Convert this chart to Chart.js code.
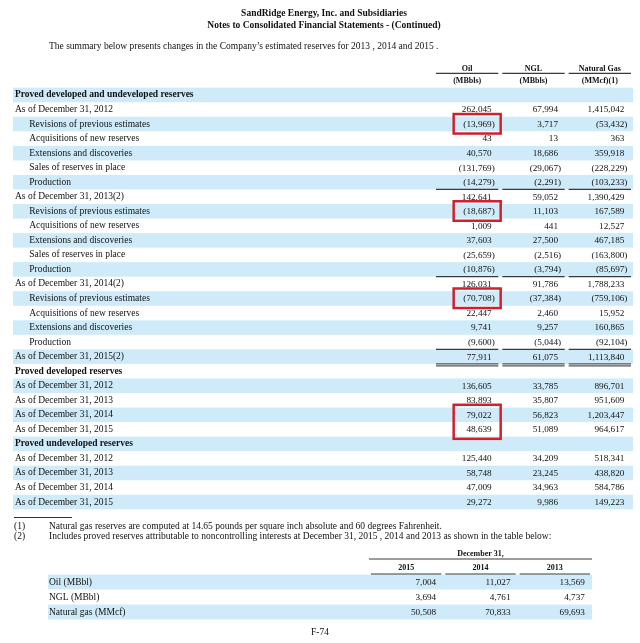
<!DOCTYPE html>
<html>
<head>
<meta charset="utf-8">
<script src="https://cdn.jsdelivr.net/npm/chart.js@4.4.0/dist/chart.umd.min.js"></script>
<style>
  html, body { margin: 0; padding: 0; background: #fff; }
  body { width: 640px; height: 643px; position: relative; overflow: hidden;
         font-family: 'Liberation Serif', 'Times New Roman', serif; color: #111; }
  .t { position: absolute; white-space: nowrap; font-size: 9.5px; line-height: 12px; }
  .b { font-weight: bold; }
  #main { position: absolute; left: 0; top: 0; }
  #nci { position: absolute; left: 0; top: 530px; }
</style>
</head>
<body>
<canvas id="main" width="640" height="515"></canvas>
<canvas id="nci" width="640" height="100"></canvas>

<div class="t b" style="left:0;width:648px;text-align:center;top:6.5px">SandRidge Energy, Inc. and Subsidiaries</div>
<div class="t b" style="left:0;width:648px;text-align:center;top:18.5px">Notes to Consolidated Financial Statements - (Continued)</div>
<div class="t" style="left:49px;top:40px">The summary below presents changes in the Company’s estimated reserves for 2013 , 2014 and 2015 .</div>

<div style="position:absolute;left:14px;top:517px;width:58px;border-top:1px solid #333"></div>
<div class="t" style="left:14px;top:519.5px">(1)</div>
<div class="t" style="left:49px;top:519.5px">Natural gas reserves are computed at 14.65 pounds per square inch absolute and 60 degrees Fahrenheit.</div>
<div class="t" style="left:14px;top:530px">(2)</div>
<div class="t" style="left:49px;top:530px">Includes proved reserves attributable to noncontrolling interests at December 31, 2015 , 2014 and 2013 as shown in the table below:</div>

<div class="t" style="left:0;width:640px;text-align:center;top:626px">F-74</div>

<script>
// Tabela principal: reservas estimadas
const colNames = ['Oil', 'NGL', 'Natural Gas'];
const colUnits = ['(MBbls)', '(MBbls)', '(MMcf)(1)'];

const rowLabels = [
    'Proved developed and undeveloped reserves',
    'As of December 31, 2012',
    'Revisions of previous estimates',
    'Acquisitions of new reserves',
    'Extensions and discoveries',
    'Sales of reserves in place',
    'Production',
    'As of December 31, 2013(2)',
    'Revisions of previous estimates',
    'Acquisitions of new reserves',
    'Extensions and discoveries',
    'Sales of reserves in place',
    'Production',
    'As of December 31, 2014(2)',
    'Revisions of previous estimates',
    'Acquisitions of new reserves',
    'Extensions and discoveries',
    'Production',
    'As of December 31, 2015(2)',
    'Proved developed reserves',
    'As of December 31, 2012',
    'As of December 31, 2013',
    'As of December 31, 2014',
    'As of December 31, 2015',
    'Proved undeveloped reserves',
    'As of December 31, 2012',
    'As of December 31, 2013',
    'As of December 31, 2014',
    'As of December 31, 2015'
];
// h = section header, a = balance, s = indented change
const rowKinds = ['h','a','s','s','s','s','s','a','s','s','s','s','s','a','s','s','s','s','a',
                  'h','a','a','a','a','h','a','a','a','a'];

const oil = [null, 262045, -13969, 43, 40570, -131769, -14279, 142641, -18687, 1009, 37603, -25659, -10876,
             126031, -70708, 22447, 9741, -9600, 77911, null, 136605, 83893, 79022, 48639,
             null, 125440, 58748, 47009, 29272];
const ngl = [null, 67994, 3717, 13, 18686, -29067, -2291, 59052, 11103, 441, 27500, -2516, -3794,
             91786, -37384, 2460, 9257, -5044, 61075, null, 33785, 35807, 56823, 51089,
             null, 34209, 23245, 34963, 9986];
const gas = [null, 1415042, -53432, 363, 359918, -228229, -103233, 1390429, 167589, 12527, 467185, -163800, -85697,
             1788233, -759106, 15952, 160865, -92104, 1113840, null, 896701, 951609, 1203447, 964617,
             null, 518341, 438820, 584786, 149223];

// linhas com traço abaixo (índices) e destaques em vermelho
const rulesAfter = [6, 12, 17];
const doubleRulesAfter = [18];
const highlights = [[2, 2], [8, 8], [14, 14], [22, 23]];

// Tabela de participações minoritárias
const nciYears = ['2015', '2014', '2013'];
const nciLabels = ['Oil (MBbl)', 'NGL (MBbl)', 'Natural gas (MMcf)'];
const nci2015 = [7004, 3694, 50508];
const nci2014 = [11027, 4761, 70833];
const nci2013 = [13569, 4737, 69693];

const FONT = "'Liberation Serif', 'Times New Roman', serif";
const INK = '#111';
const SHADE = '#cfebfa';

function formatar(v) {
    return Math.abs(v).toLocaleString('en-US');
}

const tablePlugin = {
    id: 'table',
    beforeDraw(chart, args, opts) {
        const { ctx, chartArea, scales: { y } } = chart;
        const n = y.getLabels().length;
        const h = chartArea.height / n;
        ctx.save();
        ctx.fillStyle = SHADE;
        for (let i = 0; i < n; i += 2) {
            const cy = y.getPixelForValue(i);
            ctx.fillRect(opts.shadeLeft, cy - h / 2, chartArea.right - opts.shadeLeft, h);
        }
        ctx.restore();
    },
    afterDatasetsDraw(chart, args, opts) {
        const ctx = chart.ctx;
        ctx.save();
        ctx.fillStyle = INK;
        ctx.font = `normal ${opts.valueSize}px ${FONT}`;
        ctx.textBaseline = 'middle';
        chart.data.datasets.forEach((ds, d) => {
            const meta = chart.getDatasetMeta(d);
            ds.values.forEach((v, j) => {
                if (v === null) return;
                const pt = meta.data[j];
                const ax = pt.x + opts.anchor;
                ctx.textAlign = 'right';
                ctx.fillText((v < 0 ? '(' : '') + formatar(v), ax, pt.y + 0.5);
                if (v < 0) {
                    ctx.textAlign = 'left';
                    ctx.fillText(')', ax, pt.y + 0.5);
                }
            });
        });
        ctx.restore();
    },
    afterDraw(chart, args, opts) {
        const { ctx, chartArea, scales: { x, y } } = chart;
        const h = chartArea.height / y.getLabels().length;
        const w = chartArea.width / x.getLabels().length;
        ctx.save();
        ctx.strokeStyle = '#3a3a3a';
        ctx.lineWidth = 1.2;

        const segmentos = (yy) => {
            x.getLabels().forEach((lab, c) => {
                const cx = x.getPixelForValue(c);
                ctx.beginPath();
                ctx.moveTo(cx - w / 2 + 2, yy);
                ctx.lineTo(cx + w / 2 - 2, yy);
                ctx.stroke();
            });
        };

        // traço sob o cabeçalho
        segmentos(chartArea.top - opts.headRule);

        (opts.rules || []).forEach(r => segmentos(y.getPixelForValue(r) + h / 2));
        (opts.doubleRules || []).forEach(r => {
            const yy = y.getPixelForValue(r) + h / 2;
            ctx.strokeStyle = '#555';
            segmentos(yy);
            segmentos(yy + 2);
        });

        if (opts.group) {
            ctx.fillStyle = INK;
            ctx.font = `bold 8px ${FONT}`;
            ctx.textAlign = 'center';
            ctx.textBaseline = 'middle';
            ctx.fillText(opts.group, (chartArea.left + chartArea.right) / 2, chartArea.top - 20.5);
            ctx.strokeStyle = '#3a3a3a';
            ctx.beginPath();
            ctx.moveTo(chartArea.left, chartArea.top - 15.5);
            ctx.lineTo(chartArea.right, chartArea.top - 15.5);
            ctx.stroke();
        }

        // caixas vermelhas
        ctx.strokeStyle = '#d0202e';
        ctx.lineWidth = 2.5;
        (opts.boxes || []).forEach(([r0, r1]) => {
            const ax = x.getPixelForValue(0) + opts.anchor;
            const top = y.getPixelForValue(r0) - 10;
            const bottom = y.getPixelForValue(r1) + 9.5;
            ctx.strokeRect(ax - 38, top, 47, bottom - top);
        });
        ctx.restore();
    }
};

function pontos(colName, labels) {
    return labels.map(lab => ({ x: colName, y: lab }));
}

function eixos(cols, rows, kinds, yWidth, xHeight, tickCb, headSize, padX) {
    return {
        x: {
            type: 'category',
            labels: cols,
            position: 'top',
            offset: true,
            grid: { display: false, drawTicks: false },
            border: { display: false },
            ticks: {
                autoSkip: false,
                maxRotation: 0,
                padding: padX,
                color: INK,
                font: { family: FONT, size: headSize, weight: 'bold', lineHeight: 1.5 },
                callback: tickCb
            },
            afterFit: s => { s.height = xHeight; }
        },
        y: {
            type: 'category',
            labels: rows,
            offset: true,
            grid: { display: false, drawTicks: false },
            border: { display: false },
            ticks: {
                autoSkip: false,
                crossAlign: 'far',
                padding: 0,
                color: INK,
                font: ctx => ({ family: FONT, size: 9.5, weight: kinds[ctx.index] === 'h' ? 'bold' : 'normal' }),
                callback: (v, i) => (kinds[i] === 's' ? '      ' : '') + rows[i]
            },
            afterFit: s => { s.width = yWidth; }
        }
    };
}

const comuns = {
    responsive: false,
    animation: false,
    events: [],
    plugins: { legend: { display: false }, tooltip: { enabled: false }, title: { display: false } }
};

new Chart(document.getElementById('main'), {
    type: 'scatter',
    data: {
        datasets: [oil, ngl, gas].map((vals, c) => ({
            data: pontos(colNames[c], rowLabels),
            values: vals,
            pointRadius: 0,
            showLine: false
        }))
    },
    options: {
        ...comuns,
        layout: { padding: { left: 15, right: 7, top: 47.7, bottom: 2.8 } },
        scales: eixos(colNames, rowLabels, rowKinds, 419, 40,
            (v, i) => [colNames[i], colUnits[i]], 8, 1),
        plugins: {
            ...comuns.plugins,
            table: {
                shadeLeft: 13, anchor: 24.5, valueSize: 9.2, headRule: 14.4,
                rules: rulesAfter, doubleRules: doubleRulesAfter, boxes: highlights
            }
        }
    },
    plugins: [tablePlugin]
});

new Chart(document.getElementById('nci'), {
    type: 'scatter',
    data: {
        datasets: [nci2015, nci2014, nci2013].map((vals, c) => ({
            data: pontos(nciYears[c], nciLabels),
            values: vals,
            pointRadius: 0,
            showLine: false
        }))
    },
    options: {
        ...comuns,
        layout: { padding: { left: 49, right: 48, top: 24.5, bottom: 10.5 } },
        scales: eixos(nciYears, nciLabels, ['a', 'a', 'a'], 320, 20,
            (v, i) => nciYears[i], 8, 1),
        plugins: {
            ...comuns.plugins,
            table: { shadeLeft: 48, anchor: 30, valueSize: 9.2, headRule: 0.5, group: 'December 31,' }
        }
    },
    plugins: [tablePlugin]
});
</script>
</body>
</html>
